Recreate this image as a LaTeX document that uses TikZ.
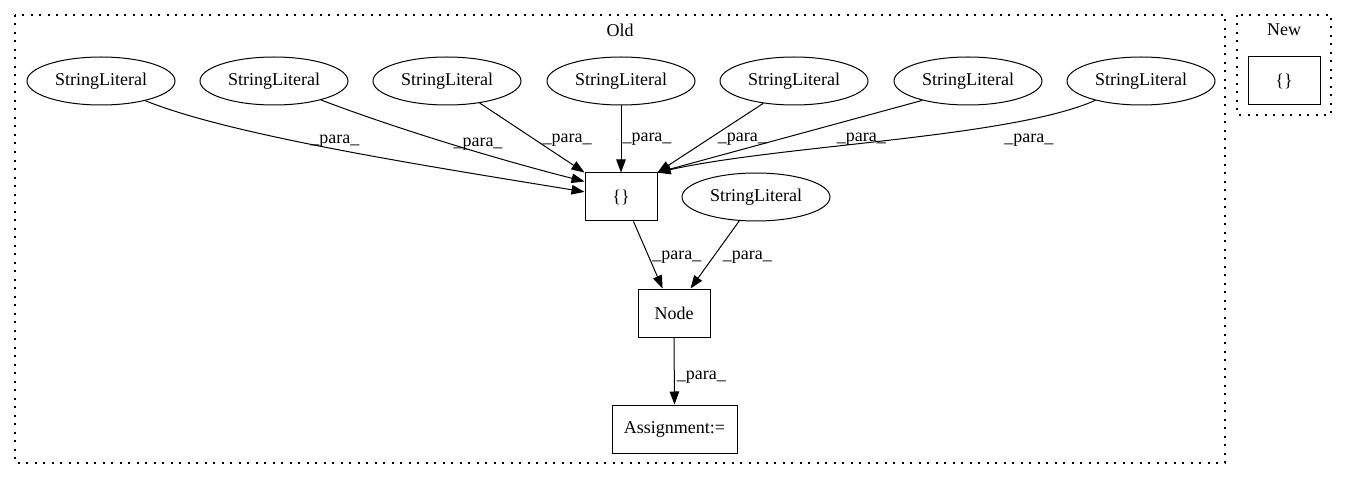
\documentclass[tikz,border=0pt]{standalone}
\usepackage{fontspec}
\setmainfont{Liberation Serif}
\usetikzlibrary{arrows.meta,shapes.geometric}
\definecolor{astBlack}{RGB}{0, 0, 0}

\begin{document}
\begin{tikzpicture}[x=1bp, y=-1bp, font=\fontsize{18bp}{21bp}\selectfont]
            \tikzstyle{strlit} = [ellipse, draw=astBlack, minimum width=148bp, minimum height=48bp, inner sep=0pt, line width=1bp]
            \tikzstyle{astbox} = [rectangle, draw=astBlack, minimum width=72bp, minimum height=48bp, inner sep=0pt, line width=1bp]
            \tikzstyle{cluster} = [draw=astBlack, line width=1.1bp, dash pattern=on 2bp off 6.5bp]
            \tikzstyle{para} = [->, >={Triangle[length=13bp, width=9.5bp]}, line width=1bp, astBlack]
            \tikzstyle{paralbl} = [inner sep=1bp, text=astBlack]

            \useasboundingbox (0,0) rectangle (1347,480);

            % clusters
            \draw[cluster] (15,15) rectangle (1225,463);
            \draw[cluster] (1237,15) rectangle (1331,115);
            \node (oldlbl) at (620,30) {Old};
            \node (newlbl) at (1284,30) {New};

            \node[strlit] (sl1) at (101,81) {StringLiteral};
            \node[strlit] (sl2) at (274,81) {StringLiteral};
            \node[strlit] (sl3) at (447,81) {StringLiteral};
            \node[strlit] (sl4) at (621,81) {StringLiteral};
            \node[strlit] (sl5) at (794,81) {StringLiteral};
            \node[strlit] (sl6) at (968,81) {StringLiteral};
            \node[strlit] (sl7) at (1141,81) {StringLiteral};
            \node[astbox] (lit) at (621,197) {\{\}};
            \node[strlit] (sl8) at (756,197) {StringLiteral};
            \node[astbox] (nd) at (674,313) {Node};
            \node[astbox, minimum width=125bp] (asg) at (674.5,429) {Assignment:=};
            \node[astbox] (newlit) at (1284,81) {\{\}};

            \draw[para] (sl1.336) .. controls (230,135) and (420,165) .. (lit.172) node[paralbl, pos=0.5, above] {\_para\_};
            \draw[para] (sl2.338) .. controls (400,130) and (500,160) .. (lit.157) node[paralbl, pos=0.6, above] {\_para\_};
            \draw[para] (sl3.326) -- (lit.north west) node[paralbl, pos=0.53, right=6bp] {\_para\_};
            \draw[para] (sl4.south) -- (lit.north) node[paralbl, pos=0.5, right=0bp] {\_para\_};
            \draw[para] (sl5.216) -- (lit.north east) node[paralbl, pos=0.52, right=8bp] {\_para\_};
            \draw[para] (sl6.203) -- (lit.north east) node[paralbl, pos=0.23, below=15bp] {\_para\_};
            \draw[para] (sl7.203) .. controls (1010,138) and (780,145) .. (lit.north east) node[paralbl, pos=0.2, below=13bp] {\_para\_};
            \draw[para] (lit.-63) -- (nd.115) node[paralbl, pos=0.53, right=2bp] {\_para\_};
            \draw[para] (sl8.235) -- (nd.56) node[paralbl, pos=0.53, right=8bp] {\_para\_};
            \draw[para] (nd.south) -- (asg.north) node[paralbl, pos=0.59, right=1bp] {\_para\_};
        \end{tikzpicture}
\end{document}
